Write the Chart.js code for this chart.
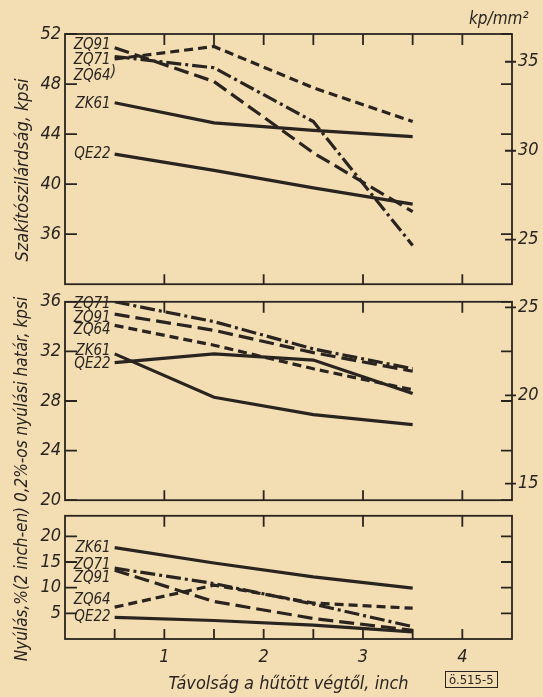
<!DOCTYPE html>
<html>
<head>
<meta charset="utf-8">
<script src="https://cdn.jsdelivr.net/npm/chart.js@4"></script>
<style>
  body { margin: 0; background: #f3deb4; }
  #wrap {
    position: relative; width: 543px; height: 697px; overflow: hidden;
    font-family: 'DejaVu Sans Condensed', 'DejaVu Sans', sans-serif;
    font-style: italic; color: #2a2420;
  }
  canvas { position: absolute; left: 0; }
  .vt { position: absolute; white-space: nowrap; transform: translate(-50%, -50%) rotate(-90deg); }
</style>
</head>
<body>
<div id="wrap">
  <canvas id="c1" width="543" height="301" style="top:0"></canvas>
  <canvas id="c2" width="543" height="232" style="top:285px"></canvas>
  <canvas id="c3" width="543" height="196" style="top:501px"></canvas>

  <div class="vt" style="left:21px; top:170px; font-size:18px">Szakítószilárdság, kpsi</div>
  <div class="vt" style="left:21px; top:479px; font-size:17px">Nyúlás,%(2 inch-en) 0,2%-os nyúlási határ, kpsi</div>
  <div style="position:absolute; left:469px; top:8px; font-size:17px">kp/mm²</div>
  <div style="position:absolute; left:445px; top:671px; font-size:13px; font-style:normal; border:1.5px solid #2a2420; padding:0 3px; line-height:15px">ö.515-5</div>
</div>

<script>
const INK = "#2a2420";
const KSI_PER_KP = 1.4223; // 1 kp/mm² in ksi

// távolság a hűtött végtől, inch
const xInch = [0.5, 1.5, 2.5, 3.5];

// szakítószilárdság, kpsi
const tensZQ91 = [50.0, 51.0, 47.7, 45.0];
const tensZQ71 = [50.2, 49.3, 45.0, 35.1];
const tensZQ64 = [50.9, 48.2, 42.5, 37.8];
const tensZK61 = [46.5, 44.9, 44.3, 43.8];
const tensQE22 = [42.4, 41.1, 39.7, 38.4];

// 0,2%-os nyúlási határ, kpsi
const yieldZQ71 = [36.0, 34.4, 32.2, 30.6];
const yieldZQ91 = [35.0, 33.7, 31.9, 30.4];
const yieldZQ64 = [34.1, 32.5, 30.6, 28.9];
const yieldZK61 = [31.8, 28.3, 26.9, 26.1];
const yieldQE22 = [31.1, 31.8, 31.3, 28.6];

// nyúlás, % (2 inch-en)
const elongZK61 = [17.8, 14.8, 12.1, 9.9];
const elongZQ71 = [13.8, 10.8, 6.8, 2.4];
const elongZQ91 = [13.4, 7.3, 4.0, 1.7];
const elongZQ64 = [6.2, 10.5, 7.0, 6.0];
const elongQE22 = [4.2, 3.6, 2.7, 1.4];

// tengelyek
const tensTicks = [36, 40, 44, 48, 52];
const tensKpTicks = [25, 30, 35];
const yieldTicks = [20, 24, 28, 32, 36];
const yieldKpTicks = [15, 20, 25];
const elongTicks = [5, 10, 15, 20];
const xLabels = [1, 2, 3, 4];

const DASH = [9, 5];
const LONGDASH = [15, 6];
const DASHDOT = [15, 4, 3, 4];

function series(values, dash) {
  return {
    data: values.map((v, i) => ({ x: xInch[i], y: v })),
    borderColor: INK,
    borderWidth: 3.2,
    borderDash: dash || [],
    borderCapStyle: "butt",
    pointRadius: 0,
    fill: false,
    tension: 0
  };
}

// keret, befelé mutató osztások és a görbék nevei
const frameTicks = {
  id: "frameTicks",
  afterDraw(chart, args, o) {
    const { ctx, chartArea: a, scales } = chart;
    const x = scales.x, y = scales.y, kp = scales.kp;
    ctx.save();
    ctx.strokeStyle = INK;
    ctx.lineWidth = 1.8;
    ctx.strokeRect(a.left, a.top, a.right - a.left, a.bottom - a.top);
    ctx.beginPath();
    o.topX.forEach(v => {
      const px = x.getPixelForValue(v);
      ctx.moveTo(px, a.top); ctx.lineTo(px, a.top + 11);
    });
    o.bottomX.forEach(v => {
      const px = x.getPixelForValue(v);
      ctx.moveTo(px, a.bottom); ctx.lineTo(px, a.bottom - 10);
    });
    o.yTicks.forEach(v => {
      const py = y.getPixelForValue(v);
      ctx.moveTo(a.left, py); ctx.lineTo(a.left + 12, py);
      ctx.moveTo(a.right, py); ctx.lineTo(a.right - 11, py);
    });
    o.kpTicks.forEach(v => {
      const py = kp.getPixelForValue(v);
      ctx.moveTo(a.right - 7, py); ctx.lineTo(a.right + 4, py);
    });
    ctx.stroke();

    ctx.fillStyle = INK;
    ctx.font = "italic 15px 'DejaVu Sans Condensed'";
    ctx.textBaseline = "middle";
    const lx = x.getPixelForValue(xInch[0]) - 4;
    o.names.forEach(n => {
      const py = y.getPixelForValue(n.at);
      ctx.textAlign = "right";
      ctx.fillText(n.text, lx, py);
      if (n.tail) {
        ctx.textAlign = "left";
        ctx.fillText(n.tail, lx, py - 4);
      }
    });
    ctx.restore();
  }
};

function makePanel(id, datasets, yr, yTicks, kpTicks, names, lay) {
  const tickFont = { family: "'DejaVu Sans Condensed'", size: 18, style: "italic" };
  return new Chart(document.getElementById(id), {
    type: "line",
    data: { datasets },
    plugins: [frameTicks],
    options: {
      responsive: false,
      animation: false,
      layout: { padding: { top: lay.padTop, left: 0, right: 0, bottom: 0 } },
      plugins: {
        legend: { display: false },
        tooltip: { enabled: false },
        frameTicks: { topX: lay.topX, bottomX: lay.bottomX, yTicks, kpTicks, names }
      },
      scales: {
        x: {
          type: "linear", min: 0, max: 4.5, position: "bottom",
          grid: { display: false, drawTicks: false },
          border: { display: false },
          afterBuildTicks: s => { s.ticks = xLabels.map(v => ({ value: v })); },
          afterFit: s => { s.height = lay.xHeight; },
          ticks: { display: lay.xLabels, color: INK, font: tickFont, padding: 8 },
          title: {
            display: lay.xLabels, text: "Távolság a hűtött végtől, inch",
            color: INK, font: { family: "'DejaVu Sans Condensed'", size: 18, style: "italic" },
            padding: { top: 0, bottom: 2 }
          }
        },
        y: {
          position: "left", min: yr[0], max: yr[1],
          grid: { display: false, drawTicks: false },
          border: { display: false },
          afterBuildTicks: s => { s.ticks = yTicks.map(v => ({ value: v })); },
          afterFit: s => { s.width = 65; },
          ticks: { color: INK, font: tickFont, padding: 4 }
        },
        kp: {
          position: "right", min: yr[0] / KSI_PER_KP, max: yr[1] / KSI_PER_KP,
          grid: { display: false, drawTicks: false },
          border: { display: false },
          afterBuildTicks: s => { s.ticks = kpTicks.map(v => ({ value: v })); },
          afterFit: s => { s.width = 31; },
          ticks: { display: kpTicks.length > 0, color: INK, font: tickFont, padding: 6 }
        }
      }
    }
  });
}

const halfSteps = [1, 1.5, 2, 2.5, 3, 3.5, 4];

makePanel("c1", [
  series(tensZQ91, DASH),
  series(tensZQ71, DASHDOT),
  series(tensZQ64, LONGDASH),
  series(tensZK61),
  series(tensQE22)
], [32, 52], tensTicks, tensKpTicks, [
  { text: "ZQ91", at: 51.1 },
  { text: "ZQ71", at: 49.9 },
  { text: "ZQ64", at: 48.6, tail: ")" },
  { text: "ZK61", at: 46.4 },
  { text: "QE22", at: 42.4 }
], { padTop: 34, xHeight: 14, xLabels: false, topX: halfSteps, bottomX: xLabels });

makePanel("c2", [
  series(yieldZQ71, DASHDOT),
  series(yieldZQ91, LONGDASH),
  series(yieldZQ64, DASH),
  series(yieldZK61),
  series(yieldQE22)
], [20, 36], yieldTicks, yieldKpTicks, [
  { text: "ZQ71", at: 35.8 },
  { text: "ZQ91", at: 34.7 },
  { text: "ZQ64", at: 33.7 },
  { text: "ZK61", at: 32.0 },
  { text: "QE22", at: 31.0 }
], { padTop: 14, xHeight: 14, xLabels: false, topX: xLabels, bottomX: xLabels });

makePanel("c3", [
  series(elongZK61),
  series(elongZQ71, DASHDOT),
  series(elongZQ91, LONGDASH),
  series(elongZQ64, DASH),
  series(elongQE22)
], [0, 24], elongTicks, [], [
  { text: "ZK61", at: 17.8 },
  { text: "ZQ71", at: 14.3 },
  { text: "ZQ91", at: 11.9 },
  { text: "ZQ64", at: 7.6 },
  { text: "QE22", at: 4.3 }
], { padTop: 14, xHeight: 58, xLabels: true, topX: xLabels, bottomX: [0.5, 1, 1.5, 2, 2.5, 3, 3.5, 4] });
</script>
</body>
</html>
